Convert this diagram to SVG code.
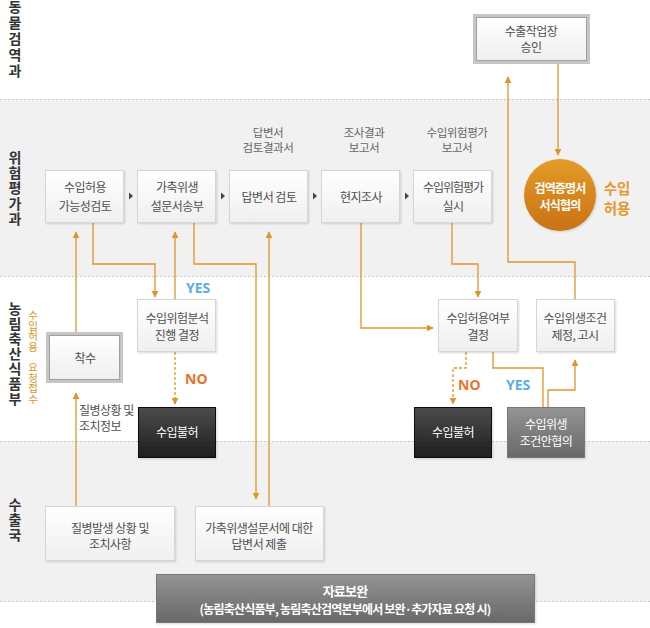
<svg xmlns="http://www.w3.org/2000/svg" width="650" height="628" viewBox="0 0 650 628">
<defs>
<linearGradient id="gBox" x1="0" y1="0" x2="0" y2="1"><stop offset="0" stop-color="#ffffff"/><stop offset="1" stop-color="#efefef"/></linearGradient>
<linearGradient id="gDark" x1="0" y1="0" x2="0" y2="1"><stop offset="0" stop-color="#4c4c4c"/><stop offset="1" stop-color="#1e1e1e"/></linearGradient>
<linearGradient id="gGrey" x1="0" y1="0" x2="0" y2="1"><stop offset="0" stop-color="#949494"/><stop offset="1" stop-color="#686868"/></linearGradient>
<linearGradient id="gCircle" x1="0" y1="0" x2="0" y2="1"><stop offset="0" stop-color="#e49b2a"/><stop offset="1" stop-color="#c97214"/></linearGradient>
<filter id="sh" x="-10%" y="-10%" width="130%" height="130%"><feDropShadow dx="1" dy="1" stdDeviation="1" flood-color="#000" flood-opacity="0.15"/></filter>
<marker id="ah" viewBox="0 0 10 10" refX="9" refY="5" markerWidth="7" markerHeight="7" orient="auto" markerUnits="userSpaceOnUse"><path d="M0,0 L10,5 L0,10 z" fill="#e0952a"/></marker>
<style>
text{font-family:"Noto Sans CJK KR","Noto Sans",sans-serif;}
.t{font-size:12px;fill:#505050;text-anchor:middle;letter-spacing:-0.5px;}
.lb{font-size:11.5px;fill:#666;text-anchor:middle;letter-spacing:-0.4px;}
.w{font-size:12px;fill:#fff;text-anchor:middle;letter-spacing:-0.5px;}
.wb{font-size:12px;fill:#fff;text-anchor:middle;font-weight:bold;letter-spacing:-0.8px;}
.v{writing-mode:vertical-rl;text-orientation:upright;text-anchor:start;}
.ttl{font-size:14px;font-weight:bold;fill:#333;}
.ot{font-size:10.5px;fill:#e0952a;}
.ok{font-size:14.5px;font-weight:bold;fill:#e8962a;text-anchor:middle;}
.box{fill:url(#gBox);stroke:#d6d6d6;stroke-width:1;filter:url(#sh);}
.dark{fill:url(#gDark);stroke:#111;stroke-width:1;filter:url(#sh);}
.grey{fill:url(#gGrey);stroke:#777;stroke-width:1;filter:url(#sh);}
.frame{fill:#fff;stroke:#c6c6c6;stroke-width:3;}
.inner{fill:url(#gBox);stroke:#a0a0a0;stroke-width:1;}
.c{fill:none;stroke:#e0952a;stroke-width:1.3;}
.cd{fill:none;stroke:#e0952a;stroke-width:1.3;stroke-dasharray:3,2;}
.yes{font-family:"Noto Sans","DejaVu Sans",sans-serif;font-size:14px;font-weight:bold;fill:#5aaee2;}
.no{font-family:"Noto Sans","DejaVu Sans",sans-serif;font-size:14px;font-weight:bold;fill:#e8742c;}
.dot{stroke:#c8c8c8;stroke-width:1;stroke-dasharray:2,2;}
.tri{fill:#444;}
</style>
</defs>

<g id="background">
<rect x="0" y="0" width="650" height="628" fill="#fff"/>
<rect x="0" y="99" width="650" height="177" fill="#f1f1f1"/>
<rect x="0" y="441" width="650" height="160" fill="#f1f1f1"/>
<line class="dot" x1="0" y1="99.5" x2="650" y2="99.5"/>
<line class="dot" x1="0" y1="276.5" x2="650" y2="276.5"/>
<line class="dot" x1="0" y1="441.5" x2="650" y2="441.5"/>
<line class="dot" x1="0" y1="601.5" x2="650" y2="601.5"/>
</g>

<g id="lane-labels">
<text class="v ttl" x="15" y="0" style="letter-spacing:2px">동물검역과</text>
<text class="v ttl" x="15" y="150.5" style="letter-spacing:1.3px">위험평가과</text>
<text class="v ttl" x="15" y="302" style="letter-spacing:1px">농림축산식품부</text>
<text class="v ot" x="33" y="310">수입허용</text>
<text class="v ot" x="33" y="362">요청접수</text>
<text class="v ttl" x="15" y="498" style="letter-spacing:1px">수출국</text>
</g>

<g id="connectors">
<path class="c" d="M76,332 V232" marker-end="url(#ah)"/>
<path class="c" d="M76,506 V393" marker-end="url(#ah)"/>
<path class="c" d="M93,223 V264 H155 V297" marker-end="url(#ah)"/>
<path class="c" d="M175,299 V232" marker-end="url(#ah)"/>
<path class="cd" d="M175,352 V404" marker-end="url(#ah)"/>
<path class="c" d="M194,223 V264 H256 V499" marker-end="url(#ah)"/>
<path class="c" d="M269,506 V232" marker-end="url(#ah)"/>
<path class="c" d="M361,223 V328 H433" marker-end="url(#ah)"/>
<path class="c" d="M452,223 V264 H478 V297" marker-end="url(#ah)"/>
<path class="cd" d="M466,352 V368 H453 V404" marker-end="url(#ah)"/>
<path class="c" d="M493,352 V368 H543 V407"/>
<path class="c" d="M548,407 V390 H575 V360" marker-end="url(#ah)"/>
<path class="c" d="M575,299 V262 H508 V77" marker-end="url(#ah)"/>
<path class="c" d="M558,64 V155" marker-end="url(#ah)"/>
<path class="tri" d="M129,192.5 L133,196 L129,199.5 z"/>
<path class="tri" d="M221,192.5 L225,196 L221,199.5 z"/>
<path class="tri" d="M313,192.5 L317,196 L313,199.5 z"/>
<path class="tri" d="M405,192.5 L409,196 L405,199.5 z"/>
<text class="yes" x="186" y="293">YES</text>
<text class="no" x="185" y="384">NO</text>
<text class="no" x="458" y="390">NO</text>
<text class="yes" x="506" y="390">YES</text>
<text class="t" x="79" y="415" style="text-anchor:start">질병상황 및</text>
<text class="t" x="79" y="431" style="text-anchor:start">조치정보</text>
</g>

<g id="doc-labels">
<text class="lb" x="268" y="137">답변서</text>
<text class="lb" x="268" y="152">검토결과서</text>
<text class="lb" x="364" y="137">조사결과</text>
<text class="lb" x="364" y="152">보고서</text>
<text class="lb" x="457" y="137">수입위험평가</text>
<text class="lb" x="457" y="152">보고서</text>
</g>

<g id="n-approve-workplace">
<rect class="frame" x="474.5" y="15.5" width="114" height="47"/>
<rect class="inner" x="476.5" y="17.5" width="110" height="43"/>
<text class="t" x="531" y="36">수출작업장</text>
<text class="t" x="531" y="52">승인</text>
</g>

<g id="n-feasibility">
<rect class="box" x="45.5" y="170.5" width="78" height="52"/>
<text class="t" x="85" y="192">수입허용</text>
<text class="t" x="85" y="211">가능성검토</text>
</g>
<g id="n-questionnaire">
<rect class="box" x="137.5" y="170.5" width="78" height="52"/>
<text class="t" x="177" y="192">가축위생</text>
<text class="t" x="177" y="211">설문서송부</text>
</g>
<g id="n-review">
<rect class="box" x="229.5" y="170.5" width="78" height="52"/>
<text class="t" x="269" y="202">답변서 검토</text>
</g>
<g id="n-onsite">
<rect class="box" x="321.5" y="170.5" width="78" height="52"/>
<text class="t" x="361" y="202">현지조사</text>
</g>
<g id="n-risk-assess">
<rect class="box" x="413.5" y="170.5" width="78" height="52"/>
<text class="t" x="453" y="192" style="letter-spacing:-1px">수입위험평가</text>
<text class="t" x="453" y="211">실시</text>
</g>
<g id="n-certificate">
<circle cx="560" cy="195" r="36" fill="url(#gCircle)" filter="url(#sh)"/>
<text class="wb" x="560" y="193">검역증명서</text>
<text class="wb" x="560" y="210">서식협의</text>
</g>
<g id="n-import-allowed">
<text class="ok" x="617" y="194">수입</text>
<text class="ok" x="617" y="213.5">허용</text>
</g>

<g id="n-start">
<rect class="frame" x="47.5" y="333.5" width="74" height="48"/>
<rect class="inner" x="49.5" y="335.5" width="70" height="44"/>
<text class="t" x="85" y="363">착수</text>
</g>
<g id="n-risk-decision">
<rect class="box" x="137.5" y="299.5" width="78" height="52"/>
<text class="t" x="177" y="323">수입위험분석</text>
<text class="t" x="177" y="340">진행 결정</text>
</g>
<g id="n-reject-1">
<rect class="dark" x="138.5" y="407.5" width="77" height="50"/>
<text class="w" x="177" y="437">수입불허</text>
</g>
<g id="n-import-decision">
<rect class="box" x="438.5" y="299.5" width="79" height="52"/>
<text class="t" x="478" y="323">수입허용여부</text>
<text class="t" x="478" y="340">결정</text>
</g>
<g id="n-conditions-notice">
<rect class="box" x="536.5" y="299.5" width="78" height="52"/>
<text class="t" x="575" y="323">수입위생조건</text>
<text class="t" x="575" y="340">제정, 고시</text>
</g>
<g id="n-reject-2">
<rect class="dark" x="414.5" y="407.5" width="77" height="50"/>
<text class="w" x="453" y="437">수입불허</text>
</g>
<g id="n-conditions-consult">
<rect class="grey" x="507.5" y="407.5" width="77" height="50"/>
<text class="w" x="546" y="429">수입위생</text>
<text class="w" x="546" y="446">조건안협의</text>
</g>

<g id="n-disease">
<rect class="box" x="45.5" y="506.5" width="129" height="54"/>
<text class="t" x="110" y="533">질병발생 상황 및</text>
<text class="t" x="110" y="549">조치사항</text>
</g>
<g id="n-answer">
<rect class="box" x="195.5" y="506.5" width="128" height="54"/>
<text class="t" x="259" y="533">가축위생설문서에 대한</text>
<text class="t" x="259" y="549">답변서 제출</text>
</g>
<g id="n-supplement">
<rect class="grey" x="156.5" y="574.5" width="378" height="48"/>
<text class="wb" x="345" y="596" style="font-size:13px">자료보완</text>
<text class="wb" x="345" y="614">(농림축산식품부, 농림축산검역본부에서 보완·추가자료 요청 시)</text>
</g>
</svg>
